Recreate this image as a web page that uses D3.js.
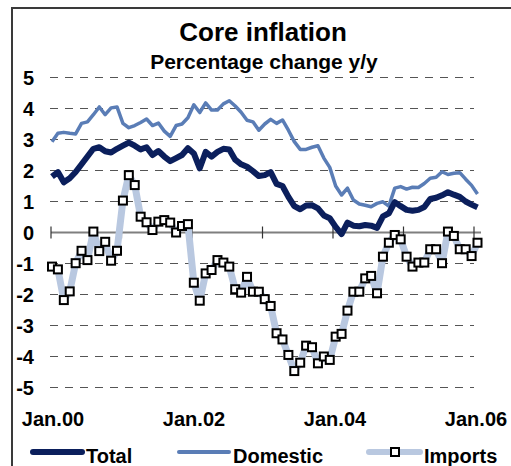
<!DOCTYPE html>
<html>
<head>
<meta charset="utf-8">
<script src="https://cdn.jsdelivr.net/npm/d3@7"></script>
<style>
  body { margin: 0; background: #fff; }
  text { font-family: Arial, "Liberation Sans", sans-serif; font-weight: bold; fill: #000; }
</style>
</head>
<body>
<div id="main"></div>
<script>
// monthly, Jan.00 .. Jan.06
var total = [1.8, 1.95, 1.62, 1.75, 1.95, 2.2, 2.45, 2.7, 2.75, 2.62, 2.58, 2.7,
  2.8, 2.9, 2.8, 2.68, 2.75, 2.5, 2.63, 2.45, 2.3, 2.4, 2.5, 2.72,
  2.55, 2.07, 2.6, 2.45, 2.6, 2.7, 2.68, 2.35, 2.2, 2.12, 1.98, 1.82,
  1.85, 1.95, 1.57, 1.5, 1.15, 0.85, 0.75, 0.87, 0.88, 0.78, 0.55, 0.46,
  0.18, -0.05, 0.32, 0.22, 0.2, 0.24, 0.22, 0.15, 0.52, 0.62, 0.98, 0.85,
  0.73, 0.7, 0.73, 0.82, 1.08, 1.12, 1.2, 1.3, 1.22, 1.15, 1.0, 0.9, 0.81]
var domestic = [2.93, 3.2, 3.23, 3.2, 3.18, 3.52, 3.57, 3.8, 4.05, 3.8, 4.02, 4.05,
  3.52, 3.38, 3.45, 3.55, 3.66, 3.45, 3.53, 3.27, 3.1, 3.45, 3.5, 3.7,
  4.12, 3.87, 4.18, 3.95, 3.95, 4.15, 4.25, 4.08, 3.88, 3.62, 3.57, 3.3,
  3.5, 3.65, 3.52, 3.63, 3.3, 2.93, 2.68, 2.68, 2.75, 2.8, 2.4, 2.1,
  1.5, 1.21, 1.43, 1.05, 0.92, 0.88, 0.83, 0.94, 0.99, 0.85, 1.43, 1.48,
  1.4, 1.46, 1.45, 1.58, 1.75, 1.78, 1.96, 1.87, 1.91, 1.93, 1.72, 1.52, 1.24]
var imports = [-1.1, -1.19, -2.18, -1.9, -0.99, -0.59, -0.89, 0.03, -0.6, -0.3, -0.91, -0.59,
  1.03, 1.85, 1.53, 0.51, 0.33, 0.08, 0.35, 0.4, 0.32, 0.0, 0.21, 0.27,
  -1.62, -2.2, -1.32, -1.21, -0.89, -0.97, -1.1, -1.83, -1.94, -1.43, -1.91, -1.91,
  -2.15, -2.37, -3.25, -3.45, -3.95, -4.47, -4.2, -3.65, -3.7, -4.22, -4.0, -4.11,
  -3.36, -3.27, -2.52, -1.91, -1.91, -1.48, -1.4, -1.96, -0.78, -0.33, -0.08, -0.22,
  -0.78, -1.1, -0.97, -0.97, -0.54, -0.54, -0.99, 0.03, -0.11, -0.54, -0.54, -0.76, -0.33]
var yTicks = [5, 4, 3, 2, 1, 0, -1, -2, -3, -4, -5]
var yearTicks = [0, 12, 24, 36, 48, 60, 72]
var xLabels = [{i: 0, text: "Jan.00"}, {i: 24, text: "Jan.02"}, {i: 48, text: "Jan.04"}, {i: 72, text: "Jan.06"}]

var W = 511, H = 466
var cTotal = "#0b1f5c", cDom = "#5a7db6", cImp = "#b9c8e0"

var svg = d3.select("#main").append("svg").attr("width", W).attr("height", H)

// frame
svg.append("rect").attr("x", 12).attr("y", 8).attr("width", 600).attr("height", 600)
  .attr("fill", "none").attr("stroke", "#3a3a3a").attr("stroke-width", 2)

var x = d3.scaleLinear().domain([0, 72]).range([52, 477.5])
var xt = d3.scaleLinear().domain([0, 72]).range([51, 474])
var y = d3.scaleLinear().domain([-5, 5]).range([387.5, 77.5])

svg.append("text").attr("x", 263).attr("y", 41).attr("text-anchor", "middle")
  .style("font-size", "26px").text("Core inflation")
svg.append("text").attr("x", 264).attr("y", 69).attr("text-anchor", "middle")
  .style("font-size", "21px").text("Percentage change y/y")

// grid
svg.selectAll("line.grid")
  .data(yTicks.filter(d => d !== 0))
  .enter().append("line").attr("class", "grid")
  .attr("x1", 50).attr("x2", 474)
  .attr("y1", d => y(d)).attr("y2", d => y(d))
  .attr("stroke", "#555").attr("stroke-width", 1.2).attr("stroke-dasharray", "8,7")

// y labels
var yAxis = svg.append("g").attr("transform", "translate(34,0)")
  .call(d3.axisLeft(y).tickValues(yTicks).tickSize(0).tickPadding(0).tickFormat(d3.format("d")))
yAxis.select(".domain").remove()
yAxis.selectAll("text").style("font-size", "20px").attr("dy", "0.36em")
  .text(d => d < 0 ? "-" + Math.abs(d) : d)

// zero line and year ticks
svg.append("line").attr("x1", 51).attr("x2", 481).attr("y1", y(0)).attr("y2", y(0))
  .attr("stroke", "#7f7f7f").attr("stroke-width", 2)
svg.selectAll("line.tick")
  .data(yearTicks)
  .enter().append("line").attr("class", "tick")
  .attr("x1", d => xt(d)).attr("x2", d => xt(d))
  .attr("y1", y(0) - 6).attr("y2", y(0) + 6)
  .attr("stroke", "#333").attr("stroke-width", 1.2)

svg.selectAll("text.xl")
  .data(xLabels)
  .enter().append("text").attr("class", "xl")
  .attr("x", d => xt(d.i) + 2).attr("y", 426).attr("text-anchor", "middle")
  .style("font-size", "20px").text(d => d.text)

var line = d3.line().x((d, i) => x(i)).y(d => y(d))

svg.append("path").datum(imports).attr("d", line)
  .attr("fill", "none").attr("stroke", cImp).attr("stroke-width", 7).attr("stroke-linejoin", "round")
svg.append("path").datum(domestic).attr("d", line)
  .attr("fill", "none").attr("stroke", cDom).attr("stroke-width", 3.5).attr("stroke-linejoin", "round")
svg.append("path").datum(total).attr("d", line)
  .attr("fill", "none").attr("stroke", cTotal).attr("stroke-width", 6).attr("stroke-linejoin", "round")

svg.selectAll("rect.mk")
  .data(imports)
  .enter().append("rect").attr("class", "mk")
  .attr("x", (d, i) => x(i) - 4).attr("y", d => y(d) - 4)
  .attr("width", 8).attr("height", 8)
  .attr("fill", "#fff").attr("stroke", "#000").attr("stroke-width", 2)

// legend
var ly = 452
svg.append("line").attr("x1", 33).attr("x2", 82).attr("y1", ly).attr("y2", ly)
  .attr("stroke", cTotal).attr("stroke-width", 6).attr("stroke-linecap", "round")
svg.append("text").attr("x", 86).attr("y", 463).style("font-size", "20px").text("Total")
svg.append("line").attr("x1", 179).attr("x2", 229).attr("y1", ly).attr("y2", ly)
  .attr("stroke", cDom).attr("stroke-width", 4).attr("stroke-linecap", "round")
svg.append("text").attr("x", 233).attr("y", 463).style("font-size", "20px").text("Domestic")
svg.append("line").attr("x1", 369).attr("x2", 420).attr("y1", ly).attr("y2", ly)
  .attr("stroke", cImp).attr("stroke-width", 6).attr("stroke-linecap", "round")
svg.append("rect").attr("x", 391).attr("y", ly - 4).attr("width", 8).attr("height", 8)
  .attr("fill", "#fff").attr("stroke", "#000").attr("stroke-width", 2)
svg.append("text").attr("x", 424).attr("y", 463).style("font-size", "20px").text("Imports")
</script>
</body>
</html>
